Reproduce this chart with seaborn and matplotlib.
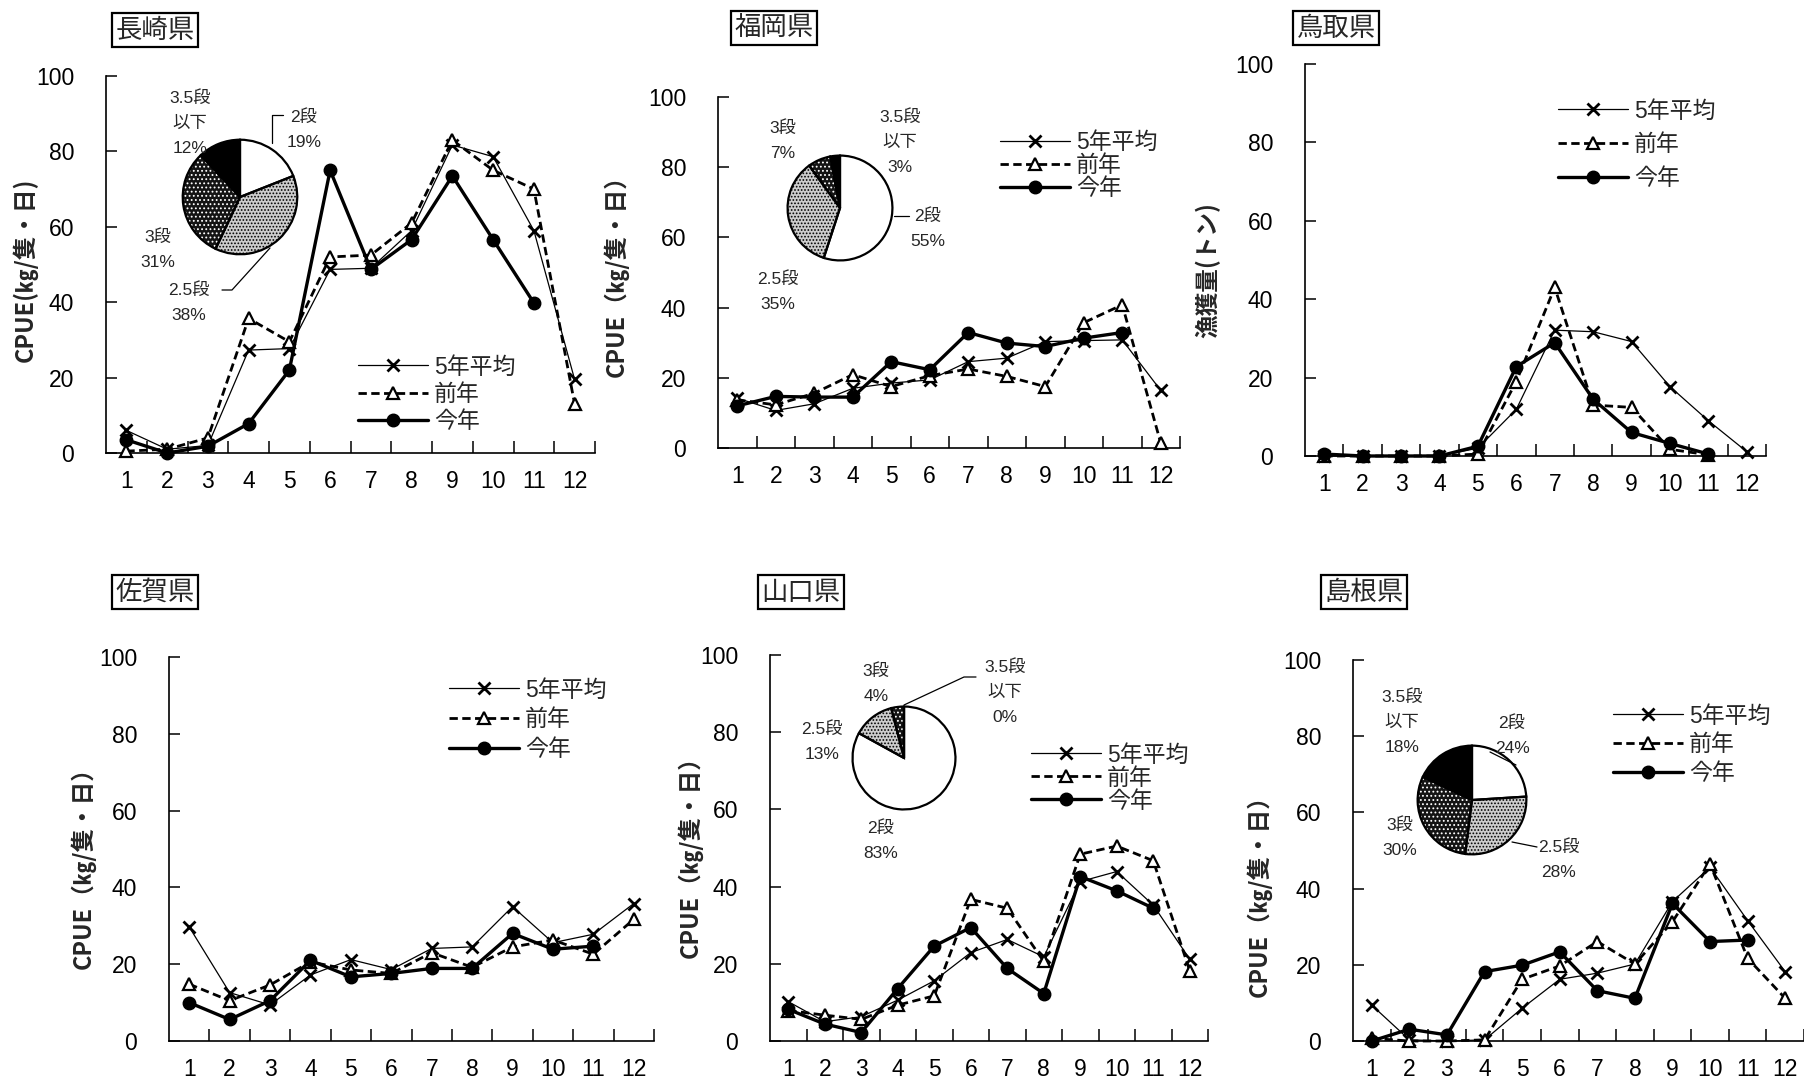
import numpy as np
import pandas as pd
import matplotlib
matplotlib.use("Agg")
import matplotlib.pyplot as plt
import seaborn as sns
from matplotlib.lines import Line2D

sns.set_theme(style="white")
plt.rcParams['font.family'] = ['Liberation Sans Narrow', 'Liberation Sans', 'Noto Sans CJK JP', 'DejaVu Sans']
plt.rcParams['hatch.linewidth'] = 0.8
plt.rcParams['axes.unicode_minus'] = False

nan = np.nan
months = list(range(1, 13))
month_labels = [str(m) for m in months]
series_names = ['5年平均', '前年', '今年']
y_ticks = [0, 20, 40, 60, 80, 100]

nagasaki_avg5 = [6.0, 1.0, 2.0, 27.3, 27.7, 48.7, 49.0, 59.0, 81.7, 78.6, 59.0, 19.5]
nagasaki_prev = [0.5, 1.0, 4.0, 35.7, 29.5, 52.0, 52.5, 61.0, 83.0, 75.0, 70.0, 13.0]
nagasaki_curr = [3.5, 0.0, 1.8, 7.8, 22.0, 75.0, 48.7, 56.6, 73.5, 56.6, 39.8, nan]

fukuoka_avg5 = [14.2, 10.7, 12.6, 17.0, 18.5, 19.4, 24.6, 25.6, 30.3, 30.6, 30.8, 16.4]
fukuoka_prev = [13.7, 12.3, 15.6, 20.9, 17.5, 20.6, 22.5, 20.4, 17.5, 35.7, 40.8, 1.4]
fukuoka_curr = [12.0, 14.7, 14.5, 14.5, 24.6, 22.3, 32.9, 29.9, 28.9, 31.3, 32.9, nan]

tottori_avg5 = [0.0, 0.0, 0.0, 0.0, 2.0, 11.9, 32.1, 31.7, 29.2, 17.7, 9.0, 1.1]
tottori_prev = [0.0, 0.0, 0.0, 0.0, 0.5, 19.0, 43.0, 13.0, 12.4, 1.7, 0.3, nan]
tottori_curr = [0.5, 0.0, 0.0, 0.0, 2.5, 22.8, 28.9, 14.5, 6.0, 3.2, 0.5, nan]

saga_avg5 = [29.7, 12.6, 9.4, 17.2, 21.2, 18.6, 24.1, 24.5, 35.0, 25.6, 27.8, 35.8]
saga_prev = [14.8, 10.5, 14.6, 20.6, 18.5, 17.6, 23.0, 19.2, 24.5, 26.3, 22.6, 31.7]
saga_curr = [10.0, 5.6, 10.5, 21.0, 16.7, 17.6, 18.9, 18.9, 28.0, 23.9, 24.7, nan]

yamaguchi_avg5 = [10.2, 5.0, 6.3, 10.6, 15.6, 22.9, 26.3, 21.8, 41.3, 43.9, 35.2, 21.2]
yamaguchi_prev = [7.9, 6.7, 5.6, 9.3, 11.7, 36.7, 34.4, 20.6, 48.4, 50.5, 46.7, 18.2]
yamaguchi_curr = [8.2, 4.4, 2.2, 13.6, 24.6, 29.4, 18.8, 12.3, 42.6, 38.9, 34.4, nan]

shimane_avg5 = [9.4, 0.3, 0.0, 0.3, 8.6, 16.2, 17.8, 20.2, 36.6, 45.6, 31.6, 18.2]
shimane_prev = [0.7, 0.0, 0.0, 0.3, 16.2, 19.7, 26.1, 20.2, 31.3, 46.5, 21.7, 11.2]
shimane_curr = [0.0, 3.1, 1.6, 18.2, 19.9, 23.4, 13.2, 11.2, 36.1, 26.1, 26.5, nan]

size_classes = ['2段', '2.5段', '3段', '3.5段\n以下']
nagasaki_pie = [19, 38, 31, 12]
fukuoka_pie = [55, 35, 7, 3]
yamaguchi_pie = [83, 13, 4, 0]
shimane_pie = [24, 28, 30, 18]

W, H = 1804, 1084
fig = plt.figure(figsize=(W / 100, H / 100), dpi=100)
fig.patch.set_facecolor('white')

def fx(px):
    return px / W

def fy(py):
    return 1 - py / H

def add_line(pts, lw=0.9):
    xs = [fx(p[0]) for p in pts]
    ys = [fy(p[1]) for p in pts]
    fig.add_artist(Line2D(xs, ys, transform=fig.transFigure, color='black', lw=lw))

panels = [
    dict(title='長崎県', data=(nagasaki_avg5, nagasaki_prev, nagasaki_curr),
         rect=(106, 76, 595, 453), xmax=12.5, title_xy=(155, 30),
         ylabel='CPUE(㎏/隻・日)', ylabel_xy=(25, 270),
         legend_xy=(358, 355.5), legend_sp=0.19),
    dict(title='福岡県', data=(fukuoka_avg5, fukuoka_prev, fukuoka_curr),
         rect=(718, 97, 1180, 448), xmax=12.25, title_xy=(774, 28),
         ylabel='CPUE（㎏/隻・日）', ylabel_xy=(616, 270),
         legend_xy=(1000, 131), legend_sp=0.0),
    dict(title='鳥取県', data=(tottori_avg5, tottori_prev, tottori_curr),
         rect=(1305, 64, 1766, 456), xmax=12.5, title_xy=(1336, 28),
         ylabel='漁獲量(トン)', ylabel_xy=(1208, 270),
         legend_xy=(1558, 99.5), legend_sp=0.47),
    dict(title='佐賀県', data=(saga_avg5, saga_prev, saga_curr),
         rect=(169, 657, 654, 1041), xmax=12.5, title_xy=(155, 592),
         ylabel='CPUE（㎏/隻・日）', ylabel_xy=(83, 862),
         legend_xy=(449, 678.5), legend_sp=0.29),
    dict(title='山口県', data=(yamaguchi_avg5, yamaguchi_prev, yamaguchi_curr),
         rect=(770, 655, 1208, 1041), xmax=12.5, title_xy=(801, 592),
         ylabel='CPUE（㎏/隻・日）', ylabel_xy=(690, 851),
         legend_xy=(1031, 743.5), legend_sp=0.0),
    dict(title='島根県', data=(shimane_avg5, shimane_prev, shimane_curr),
         rect=(1353, 660, 1804, 1041), xmax=12.42, title_xy=(1364, 592),
         ylabel='CPUE（㎏/隻・日）', ylabel_xy=(1259, 890),
         legend_xy=(1613, 704.5), legend_sp=0.26),
]

styles = [
    dict(color='black', lw=0.9, linestyle='-', marker='x', ms=8.5, mew=2.0,
         mec='black', mfc='black'),
    dict(color='black', lw=2.0, linestyle=(0, (3, 1.6)), marker='^', ms=9, mew=1.6,
         mec='black', mfc='white'),
    dict(color='black', lw=2.4, linestyle='-', marker='o', ms=9, mew=1.0,
         mec='black', mfc='black'),
]

for p in panels:
    l, t, r, b = p['rect']
    ax = fig.add_axes([fx(l), fy(b), fx(r) - fx(l), fy(t) - fy(b)])
    ax.set_facecolor('none')
    for name, vals, st in zip(series_names, p['data'], styles):
        df = pd.DataFrame({'month': months, 'value': vals})
        sns.lineplot(data=df, x='month', y='value', ax=ax, label=name,
                     clip_on=False, zorder=3, **st)
    handles = ax.get_lines()[:3]
    ax.set_xlim(0.5, p['xmax'])
    ax.set_ylim(0, 100)
    ax.set_xticks(months)
    ax.set_xticklabels(month_labels)
    ax.set_xticks([m + 0.5 for m in months], minor=True)
    ax.set_yticks(y_ticks)
    ax.set_xlabel('')
    ax.set_ylabel('')
    for s in ['top', 'right']:
        ax.spines[s].set_visible(False)
    for s in ['left', 'bottom']:
        ax.spines[s].set_color('black')
        ax.spines[s].set_linewidth(1.2)
    ax.tick_params(axis='x', which='major', length=0, pad=12, labelsize=16.5,
                   labelcolor='black')
    ax.tick_params(axis='x', which='minor', direction='in', length=9, width=1.1,
                   color='black', bottom=True)
    ax.tick_params(axis='y', which='major', direction='in', length=8, width=1.1,
                   color='black', left=True, pad=23, labelsize=16.5, labelcolor='black')
    ax.grid(False)
    lx, ly = p['legend_xy']
    ax.legend(handles=handles, labels=series_names, loc='upper left',
              bbox_to_anchor=(fx(lx), fy(ly)), bbox_transform=fig.transFigure,
              frameon=False, handlelength=3.05, handletextpad=0.26,
              labelspacing=p['legend_sp'], borderpad=0, borderaxespad=0,
              fontsize=16.5, numpoints=1)
    tx, ty = p['title_xy']
    fig.text(fx(tx), fy(ty), p['title'], ha='center', va='center', fontsize=19,
             family=['Noto Sans CJK JP', 'DejaVu Sans'],
             bbox=dict(boxstyle='square,pad=0.12', fc='white', ec='black', lw=1.6))
    yx, yy = p['ylabel_xy']
    fig.text(fx(yx), fy(yy), p['ylabel'], rotation=90, ha='center', va='center',
             fontsize=17, fontweight='bold',
             family=['Noto Sans CJK JP', 'DejaVu Sans'])

# pies: fill colours, hatch patterns and hatch colours per size class
pie_fc = ['white', '#cdcdcd', '#141414', 'black']
pie_hatch = [None, '.....', '....', None]
pie_hc = ['black', 'black', 'white', 'black']

pies = [
    dict(vals=nagasaki_pie, c=(240, 197), r=59,
         label_xy=[(304, 130), (189, 303), (158, 250), (190, 123)],
         leaders=[[(272, 143), (272, 115), (283, 115)],
                  [(222, 290), (232, 290), (270, 248)]]),
    dict(vals=fukuoka_pie, c=(840, 208), r=54,
         label_xy=[(928, 229), (778, 292), (783, 141), (900, 142)],
         leaders=[[(894, 216), (909, 216)]]),
    dict(vals=yamaguchi_pie, c=(904, 758), r=53,
         label_xy=[(881, 841), (822, 742), (876, 684), (1005, 692)],
         leaders=[[(904, 705), (964, 677), (976, 677)]]),
    dict(vals=shimane_pie, c=(1472, 800), r=56,
         label_xy=[(1512, 736), (1559, 860), (1400, 838), (1402, 722)],
         leaders=[[(1490, 752), (1516, 765)],
                  [(1512, 842), (1537, 847)]]),
]

for pp in pies:
    cx, cy = pp['c']
    r = pp['r']
    pax = fig.add_axes([fx(cx - r), fy(cy + r), 2 * r / W, 2 * r / H])
    wedges, _ = pax.pie(pp['vals'], startangle=90, counterclock=False,
                        colors=pie_fc, wedgeprops=dict(linewidth=0))
    for w, h, hc in zip(wedges, pie_hatch, pie_hc):
        w.set_edgecolor(hc)
        w.set_linewidth(0)
        if h:
            w.set_hatch(h)
    outline, _ = pax.pie(pp['vals'], startangle=90, counterclock=False,
                         wedgeprops=dict(fill=False, edgecolor='black', linewidth=1.6))
    pax.set_xlim(-1.03, 1.03)
    pax.set_ylim(-1.03, 1.03)
    pax.set_aspect('equal')
    pax.axis('off')
    for name, v, (lx, ly) in zip(size_classes, pp['vals'], pp['label_xy']):
        fig.text(fx(lx), fy(ly), f'{name}\n{v}%', ha='center', va='center',
                 fontsize=12.5, linespacing=1.85)
    for pts in pp['leaders']:
        add_line(pts)

fig.savefig('out.png', dpi=100, facecolor='white')
